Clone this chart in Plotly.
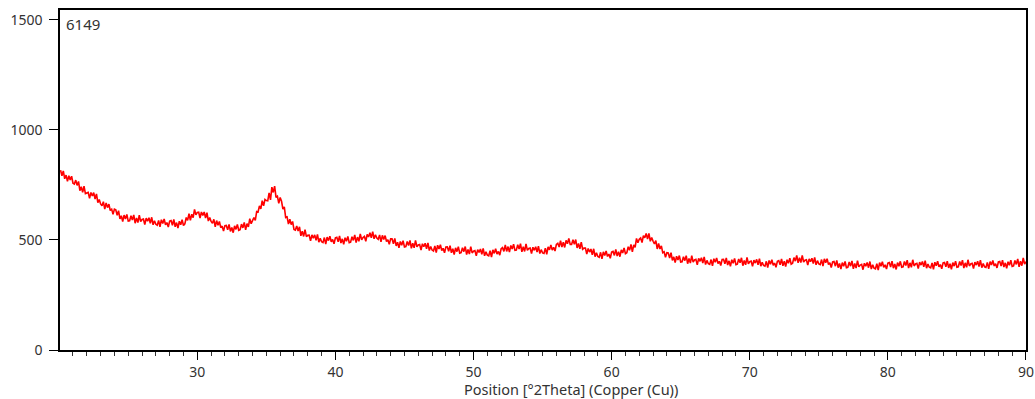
import numpy as np
import plotly.graph_objects as go

# XRD pattern of sample 6149, counts every 0.1 deg (20.1 .. 90.0)
start_two_theta = 20.1
step_two_theta = 0.1
counts = [
    817, 792, 814, 778, 795, 766, 792, 772, 790, 758,   # 20.1-21.0
    754, 772, 748, 766, 724, 742, 716, 744, 711, 715,   # 21
    716, 689, 716, 700, 715, 686, 709, 670, 684, 664,   # 22
    656, 674, 640, 668, 647, 663, 634, 640, 617, 640,   # 23
    637, 612, 633, 596, 610, 584, 613, 595, 616, 586,   # 24
    587, 610, 591, 614, 576, 600, 579, 613, 584, 593,   # 25
    595, 570, 599, 585, 601, 576, 603, 569, 587, 571,   # 26
    567, 589, 560, 592, 575, 595, 569, 579, 559, 586,   # 27
    588, 567, 593, 560, 579, 554, 585, 569, 592, 566,   # 28
    573, 602, 589, 619, 589, 617, 601, 639, 614, 625,   # 29
    626, 600, 627, 612, 627, 600, 624, 586, 602, 584,   # 30
    576, 594, 560, 588, 567, 584, 556, 563, 541, 565,   # 31
    566, 546, 571, 539, 557, 533, 564, 548, 571, 544,   # 32
    547, 572, 555, 580, 546, 574, 559, 597, 574, 588,   # 33
    602, 589, 629, 627, 655, 641, 679, 655, 684, 679,   # 34
    678, 714, 682, 740, 716, 745, 694, 699, 666, 693,   # 35
    676, 640, 650, 602, 605, 572, 594, 570, 584, 548,   # 36
    545, 564, 541, 560, 519, 540, 516, 547, 515, 521,   # 37
    522, 496, 523, 508, 523, 498, 525, 490, 508, 492,   # 38
    488, 511, 481, 513, 497, 517, 492, 502, 483, 510,   # 39
    512, 492, 518, 486, 505, 480, 510, 494, 516, 488,   # 40
    490, 515, 498, 523, 488, 513, 494, 528, 501, 511,   # 41
    516, 494, 525, 514, 533, 510, 538, 505, 524, 509,   # 42
    503, 523, 491, 521, 502, 520, 493, 501, 480, 505,   # 43
    505, 483, 507, 473, 490, 464, 493, 476, 497, 468,   # 44
    470, 493, 475, 498, 462, 485, 464, 498, 469, 477,   # 45
    479, 454, 483, 469, 485, 460, 487, 452, 470, 454,   # 46
    450, 473, 443, 476, 459, 478, 452, 462, 442, 468,   # 47
    469, 449, 474, 442, 460, 434, 464, 447, 469, 440,   # 48
    442, 465, 447, 470, 434, 457, 436, 470, 441, 449,   # 49
    452, 428, 456, 443, 459, 435, 462, 428, 446, 431,   # 50
    428, 451, 422, 455, 439, 460, 436, 448, 431, 460,   # 51
    465, 448, 477, 448, 470, 445, 475, 459, 481, 453,   # 52
    454, 478, 459, 483, 446, 469, 448, 482, 453, 461,   # 53
    463, 438, 467, 453, 469, 445, 472, 438, 456, 441,   # 54
    439, 463, 435, 469, 455, 477, 454, 467, 450, 480,   # 55
    485, 468, 497, 468, 490, 466, 498, 483, 507, 480,   # 56
    480, 501, 481, 502, 464, 484, 460, 490, 458, 463,   # 57
    463, 436, 461, 445, 459, 433, 460, 424, 442, 425,   # 58
    421, 444, 414, 446, 429, 450, 425, 436, 417, 445,   # 59
    448, 430, 457, 427, 447, 424, 455, 441, 464, 438,   # 60
    442, 469, 453, 480, 446, 478, 466, 507, 487, 503,   # 61
    509, 488, 520, 510, 530, 504, 530, 494, 511, 494,   # 62
    482, 497, 459, 484, 459, 473, 442, 446, 421, 442,   # 63
    441, 418, 442, 407, 423, 397, 426, 409, 429, 400,   # 64
    401, 424, 406, 429, 392, 416, 395, 429, 400, 409,   # 65
    412, 387, 416, 403, 419, 395, 423, 388, 407, 392,   # 66
    389, 411, 382, 415, 399, 418, 393, 403, 384, 411,   # 67
    412, 392, 418, 386, 405, 380, 410, 394, 416, 388,   # 68
    390, 414, 396, 419, 383, 407, 387, 421, 392, 401,   # 69
    404, 380, 408, 395, 412, 387, 415, 381, 399, 384,   # 70
    381, 403, 374, 407, 390, 410, 385, 395, 376, 403,   # 71
    406, 387, 414, 383, 403, 379, 410, 394, 417, 390,   # 72
    394, 420, 404, 430, 396, 419, 397, 430, 400, 408,   # 73
    410, 386, 414, 401, 417, 393, 421, 387, 406, 391,   # 74
    388, 411, 381, 414, 397, 415, 388, 396, 375, 400,   # 75
    402, 381, 407, 374, 393, 368, 397, 381, 402, 374,   # 76
    376, 400, 381, 405, 369, 393, 372, 406, 378, 386,   # 77
    389, 365, 394, 381, 398, 374, 402, 368, 387, 372,   # 78
    369, 392, 363, 397, 381, 401, 376, 387, 368, 395,   # 79
    397, 377, 404, 372, 391, 366, 397, 381, 403, 376,   # 80
    378, 402, 384, 408, 372, 396, 376, 410, 382, 391,   # 81
    394, 370, 399, 386, 402, 378, 406, 372, 391, 376,   # 82
    373, 396, 367, 399, 383, 403, 378, 388, 369, 396,   # 83
    398, 378, 404, 373, 392, 367, 397, 381, 404, 376,   # 84
    378, 402, 384, 408, 372, 396, 376, 410, 382, 391,   # 85
    394, 370, 399, 386, 403, 379, 408, 374, 393, 378,   # 86
    375, 398, 369, 402, 386, 407, 382, 392, 373, 400,   # 87
    402, 382, 408, 377, 396, 371, 401, 385, 408, 380,   # 88
    382, 407, 389, 414, 378, 403, 383, 418, 391, 401,   # 89
]
two_theta = np.round(start_two_theta + step_two_theta * np.arange(len(counts)), 2)

x_ticks = [30, 40, 50, 60, 70, 80, 90]
y_ticks = [0, 500, 1000, 1500]
sample_label = "6149"
x_title = "Position [°2Theta] (Copper (Cu))"

fig = go.Figure()
fig.add_trace(go.Scatter(
    x=two_theta, y=counts, mode="lines",
    line=dict(color="#ff0000", width=1.6),
    showlegend=False, hoverinfo="skip",
))

font_family = "Noto Sans, Open Sans, sans-serif"
fig.update_layout(
    width=1035, height=399,
    margin=dict(l=60, r=9, t=10, b=49, autoexpand=False),
    paper_bgcolor="white", plot_bgcolor="white",
    font=dict(family=font_family, size=14, color="#333333"),
    xaxis=dict(
        range=[20.06, 90.0005], tickmode="array", tickvals=x_ticks,
        ticktext=[str(v) for v in x_ticks],
        showgrid=False, zeroline=False, automargin=False,
        showline=True, linecolor="black", linewidth=1.5, mirror=True,
        ticks="outside", ticklen=8, tickwidth=1, tickcolor="black",
        minor=dict(dtick=1, ticks="outside", ticklen=4, tickwidth=1, tickcolor="#333333", showgrid=False),
        tickfont=dict(size=14),
    ),
    yaxis=dict(
        range=[0, 1545], tickmode="array", tickvals=y_ticks,
        ticktext=[str(v) for v in y_ticks],
        showgrid=False, zeroline=False, automargin=False,
        showline=True, linecolor="black", linewidth=1.5, mirror=True,
        ticks="outside", ticklen=9, tickwidth=1, tickcolor="black",
        ticklabelstandoff=4,
        tickfont=dict(size=14),
    ),
    annotations=[
        dict(text=sample_label, xref="paper", yref="paper", x=0.004, y=0.995,
             xanchor="left", yanchor="top", showarrow=False,
             font=dict(size=15, color="#333333")),
        dict(text=x_title, xref="paper", yref="paper", x=0.5295, y=-0.1147,
             xanchor="center", yanchor="middle", showarrow=False,
             font=dict(size=14.5, color="#333333")),
    ],
)

fig.write_html("out.html")
